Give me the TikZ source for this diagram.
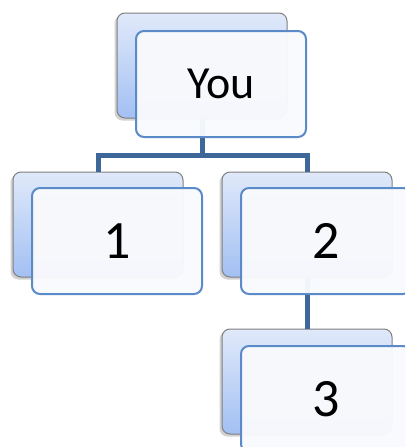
\documentclass[tikz,border=0pt]{standalone}
\usepackage{fontspec}
\setmainfont{Carlito}
\usetikzlibrary{shadows}
\definecolor{linkc}{HTML}{3D6699}
\definecolor{backtop}{HTML}{E0E9FA}
\definecolor{backbot}{HTML}{A2C0F3}
\definecolor{backedge}{HTML}{7F7F7F}
\definecolor{frontedge}{HTML}{5A8BC8}
\definecolor{frontfill}{HTML}{F9FAFD}
\tikzset{
  backbox/.style={rectangle, rounded corners=8pt, draw=backedge, line width=1pt,
    top color=backtop, bottom color=backbot, minimum width=170pt, minimum height=105pt,
    drop shadow={shadow xshift=-2.5pt, shadow yshift=-2.5pt, opacity=0.35}},
  frontbox/.style={rectangle, rounded corners=8pt, draw=frontedge, line width=2pt,
    fill=frontfill, fill opacity=0.96, text opacity=1, minimum width=170pt, minimum height=106pt,
    inner sep=0pt},
  link/.style={draw=linkc, line width=5pt},
}
\begin{document}
\begin{tikzpicture}[x=1pt,y=-1pt]
\useasboundingbox (0,0) rectangle (405,447);
\clip (0,0) rectangle (405,447);
\fill[white] (0,0) rectangle (405,447);
% back boxes
\node[backbox] (youb) at (202,65.5) {};
\node[backbox] (oneb) at (98,224.5) {};
\node[backbox] (twob) at (307,224.5) {};
\node[backbox] (threeb) at (307,381.5) {};
% connectors
\coordinate (bar) at (202,155);
\draw[link] (youb.south) -- (bar);
\draw[link] (oneb.north) |- (bar) -| (twob.north);
\draw[link] (twob.south) -- (threeb.north);
% front boxes
\node[frontbox, font=\fontsize{46}{46}\selectfont] (you) at (221,84) {You};
\node[frontbox, font=\fontsize{54}{54}\selectfont] (one) at (117,241) {1};
\node[frontbox, font=\fontsize{54}{54}\selectfont] (two) at (326,241) {2};
\node[frontbox, font=\fontsize{54}{54}\selectfont] (three) at (326,399) {3};
\end{tikzpicture}
\end{document}
